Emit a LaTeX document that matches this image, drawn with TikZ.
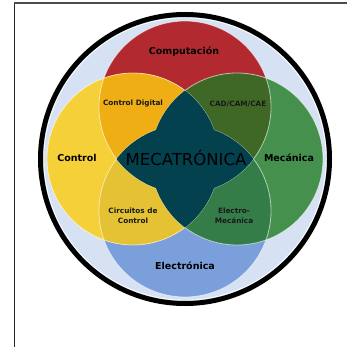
\documentclass[tikz,border=0pt]{standalone}
\usepackage{fontspec}
\setmainfont{DejaVu Sans}
\definecolor{bgblue}{HTML}{D6E2F3}
\definecolor{cred}{HTML}{B22A30}
\definecolor{cyellow}{HTML}{F6D038}
\definecolor{cgreen}{HTML}{46904E}
\definecolor{cblue}{HTML}{7A9FDB}
\definecolor{corange}{HTML}{EFAE13}
\definecolor{cdkgreen}{HTML}{3F6826}
\definecolor{cyb}{HTML}{E4C233}
\definecolor{cgb}{HTML}{357D48}
\definecolor{cteal}{HTML}{03414F}
\tikzset{
  bigl/.style={font=\fontsize{9.5}{11}\selectfont\bfseries, text=black, inner sep=0pt},
  smalll/.style={font=\fontsize{7.3}{9.8}\selectfont\bfseries, text=black!90, inner sep=0pt, align=center},
  outl/.style={draw=white, draw opacity=0.6, line width=0.8pt}
}
\begin{document}
\begin{tikzpicture}[x=1pt,y=-1pt]
\useasboundingbox (0,0) rectangle (347,347);
\fill[white] (0,0) rectangle (347,347);
% frame
\draw[black!85, line width=1.4pt] (14.5,347) -- (14.5,3);
\draw[black!70, line width=1.4pt] (14,3) -- (347,3);
% centres
\coordinate (o) at (185,159);
\coordinate (cT) at (185,107);
\coordinate (cB) at (185,211);
\coordinate (cL) at (133,159);
\coordinate (cR) at (237,159);
% background disc
\fill[bgblue] (o) circle (144pt);
% circles
\fill[cred] (cT) circle (86pt);
\fill[cblue] (cB) circle (86pt);
\fill[cyellow] (cL) circle (86pt);
\fill[cgreen] (cR) circle (86pt);
% pairwise overlaps
\begin{scope}
  \clip (cT) circle (86pt);
  \fill[corange] (cL) circle (86pt);
  \fill[cdkgreen] (cR) circle (86pt);
\end{scope}
\begin{scope}
  \clip (cB) circle (86pt);
  \fill[cyb] (cL) circle (86pt);
  \fill[cgb] (cR) circle (86pt);
\end{scope}
% outlines
\path[outl] (cT) circle (86pt);
\path[outl] (cB) circle (86pt);
\path[outl] (cL) circle (86pt);
\path[outl] (cR) circle (86pt);
% centre star
\begin{scope}
  \clip (cT) circle (86pt);
  \fill[cteal] (cB) circle (86pt);
\end{scope}
\begin{scope}
  \clip (cL) circle (86pt);
  \fill[cteal] (cR) circle (86pt);
\end{scope}
% outer ring
\draw[white, line width=0.8pt] (o) circle (141.2pt);
\draw[black, line width=5pt] (o) circle (144.5pt);
% labels
\node[bigl] (comp) at (184,52) {Computación};
\node[bigl] (ctrl) at (77,158) {Control};
\node[bigl] (mec) at (289,158) {Mecánica};
\node[bigl] (elec) at (185,266) {Electrónica};
\node[font=\fontsize{16.5}{18}\selectfont, text=black, inner sep=0pt] (meca) at (186,158) {MECATRÓNICA};
\node[smalll] (cdig) at (133,104) {Control Digital};
\node[smalll] (cad) at (238,104) {CAD/CAM/CAE};
\node[smalll] (circ) at (133,216) {Circuitos de\\Control};
\node[smalll] (emec) at (234,216) {Electro-\\Mecánica};
\end{tikzpicture}
\end{document}
